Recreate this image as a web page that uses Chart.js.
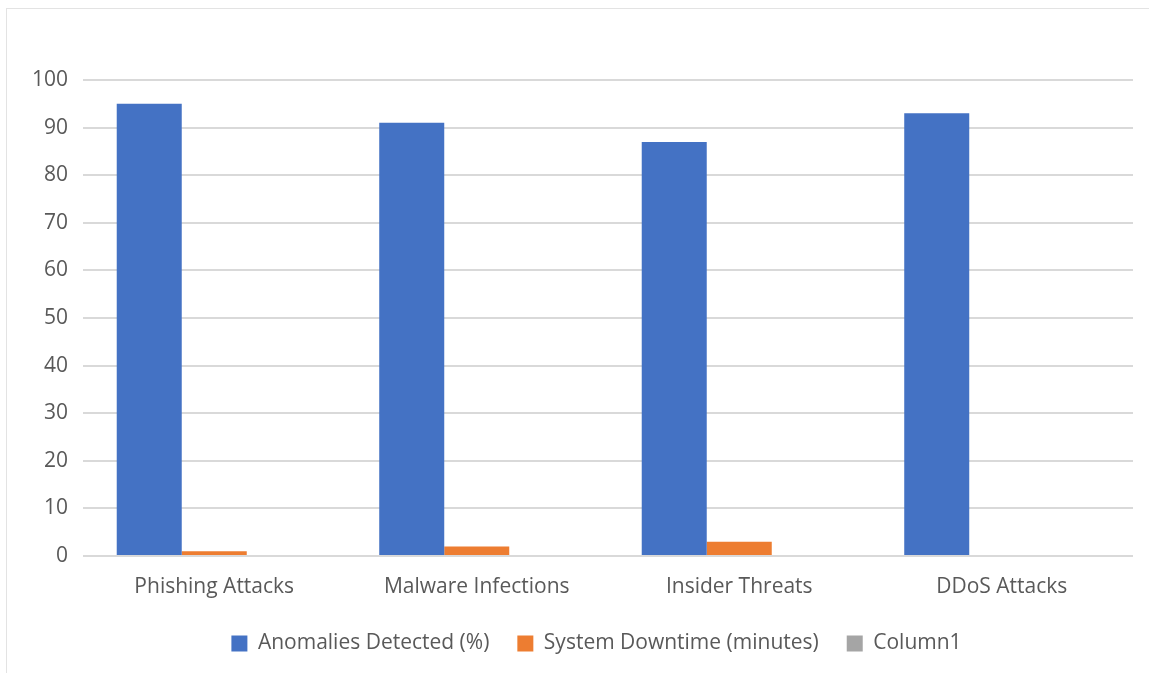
<!DOCTYPE html>
<html>
<head>
<meta charset="utf-8">
<script src="https://cdn.jsdelivr.net/npm/chart.js@4"></script>
<style>
  html, body { margin: 0; padding: 0; background: #ffffff; }
  body { width: 1149px; height: 673px; position: relative; overflow: hidden; }
  #frame {
    position: absolute; left: 6px; top: 8px; width: 1160px; height: 680px;
    border-left: 1px solid #e3e3e3; border-top: 1px solid #e3e3e3;
    box-sizing: border-box;
  }
  #wrap { position: absolute; left: 0; top: 0; width: 1149px; height: 673px; }
</style>
</head>
<body>
<div id="frame"></div>
<div id="wrap"><canvas id="chart" width="1149" height="673"></canvas></div>
<script>
const categories = ["Phishing Attacks", "Malware Infections", "Insider Threats", "DDoS Attacks"];
const anomaliesDetected = [95, 91, 87, 93];
const systemDowntime = [1, 2, 3, null];
const column1 = [null, null, null, null];
const yTicks = [0, 10, 20, 30, 40, 50, 60, 70, 80, 90, 100];

const textColor = "#595959";
const gridColor = "#d9d9d9";
const fontFamily = "'Open Sans', 'Noto Sans', sans-serif";

// nudges the centred legend row a little to the right of the canvas centre
const legendOffset = {
  id: "legendOffset",
  afterLayout(chart, args, opts) {
    const lg = chart.legend;
    if (!lg) return;
    lg.left += opts.dx || 0;
    lg.right += opts.dx || 0;
  }
};

new Chart(document.getElementById("chart"), {
  type: "bar",
  data: {
    labels: categories,
    datasets: [
      { label: "Anomalies Detected (%)", data: anomaliesDetected, backgroundColor: "#4472c4" },
      { label: "System Downtime (minutes)", data: systemDowntime, backgroundColor: "#ed7d31" },
      { label: "Column1", data: column1, backgroundColor: "#a5a5a5" }
    ]
  },
  plugins: [legendOffset],
  options: {
    responsive: false,
    animation: false,
    datasets: { bar: { categoryPercentage: 0.743, barPercentage: 1.0 } },
    layout: { padding: { top: 80, left: 34, right: 16, bottom: 9 } },
    scales: {
      x: {
        grid: { display: false, drawTicks: false },
        border: { display: false },
        ticks: { color: textColor, font: { family: fontFamily, size: 21 }, padding: 18, maxRotation: 0 },
        afterFit(scale) { scale.height = 49; }
      },
      y: {
        min: 0, max: 100,
        afterBuildTicks(scale) { scale.ticks = yTicks.map(v => ({ value: v })); },
        grid: { color: gridColor, lineWidth: 2, drawTicks: false },
        border: { display: false },
        ticks: { color: textColor, font: { family: fontFamily, size: 21 }, padding: 15 },
        afterFit(scale) { scale.width = 49; }
      }
    },
    plugins: {
      tooltip: { enabled: false },
      legendOffset: { dx: 13 },
      legend: {
        position: "bottom",
        labels: {
          color: textColor,
          font: { family: fontFamily, size: 21 },
          boxWidth: 16, boxHeight: 16,
          padding: 28
        }
      }
    }
  }
});
</script>
</body>
</html>
